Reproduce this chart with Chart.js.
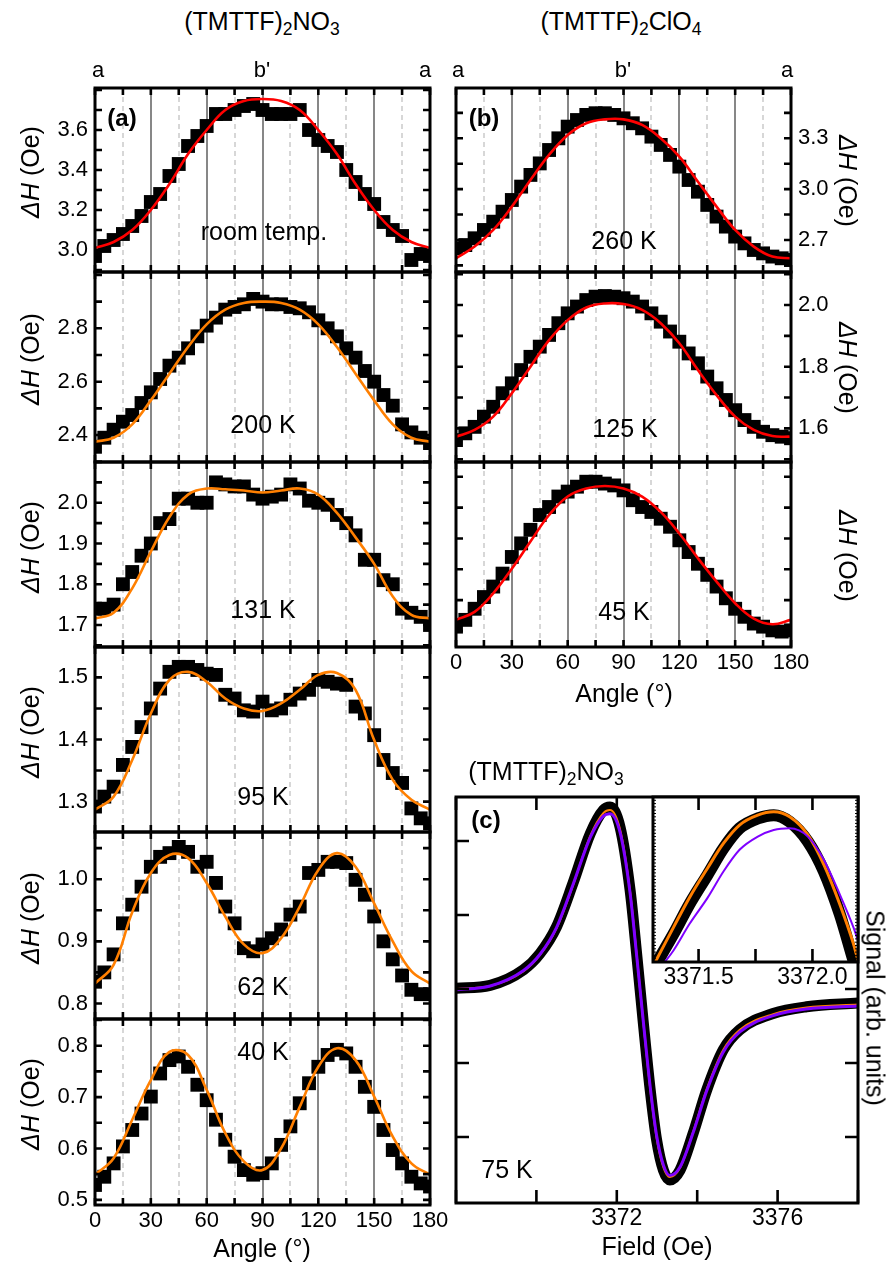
<!DOCTYPE html>
<html>
<head>
<meta charset="utf-8">
<title>(TMTTF)2X ESR linewidth</title>
<script src="https://cdn.jsdelivr.net/npm/chart.js@4.4.1/dist/chart.umd.min.js"></script>
<style>
  html, body { margin: 0; padding: 0; background: #fff; }
  #page { position: relative; width: 891px; height: 1266px; overflow: hidden;
          font-family: "Liberation Sans", Arial, sans-serif; color: #000; }
  #page canvas { position: absolute; }
  .lbl { position: absolute; white-space: nowrap; line-height: 1; }
  .lbl sub { font-size: 0.7em; vertical-align: baseline; position: relative; top: 0.32em; }
</style>
</head>
<body>
<div id="page"></div>
<script>
// ---- data ----
// rotation angle of the data points (deg)
const angles = [0, 5, 10, 15, 20, 25, 30, 35, 40, 45, 50, 55, 60, 65, 70, 75, 80, 85, 90,
  95, 100, 105, 110, 115, 120, 125, 130, 135, 140, 145, 150, 155, 160, 165, 170, 175, 180];
// angles where the fit curves were read
const fitAngles = [0, 10, 20, 30, 40, 50, 60, 70, 80, 90, 100, 110, 120, 130, 140, 150, 160, 170, 180];
const gridAngles = [15, 30, 45, 60, 75, 90, 105, 120, 135, 150, 165];

// (TMTTF)2NO3, panel (a)
const rtVals = [2.97, 3.02, 3.05, 3.08, 3.12, 3.17, 3.24, 3.28, 3.37, 3.43, 3.52, 3.57, 3.62, 3.68, 3.68, 3.70, 3.72, 3.73, 3.70,
  3.68, 3.68, 3.68, 3.70, 3.60, 3.55, 3.52, 3.49, 3.40, 3.34, 3.28, 3.23, 3.14, 3.10, 3.07, 2.95, 2.98, 2.97];
const rtFit = [3.01, 3.04, 3.10, 3.20, 3.33, 3.48, 3.60, 3.70, 3.745, 3.755, 3.745, 3.70, 3.60, 3.48, 3.33, 3.20, 3.10, 3.04, 3.01];
const rtYLabels = [3.0, 3.2, 3.4, 3.6];

const k200Vals = [2.356, 2.39, 2.42, 2.45, 2.475, 2.52, 2.56, 2.61, 2.66, 2.69, 2.725, 2.77, 2.81, 2.84, 2.87, 2.88, 2.89, 2.91, 2.90,
  2.89, 2.89, 2.88, 2.875, 2.86, 2.83, 2.80, 2.77, 2.725, 2.69, 2.64, 2.60, 2.55, 2.51, 2.44, 2.41, 2.39, 2.37];
const k200Fit = [2.375, 2.39, 2.44, 2.53, 2.63, 2.73, 2.815, 2.87, 2.895, 2.90, 2.895, 2.87, 2.815, 2.73, 2.63, 2.53, 2.44, 2.39, 2.375];
const k200YLabels = [2.4, 2.6, 2.8];

const k131Vals = [1.74, 1.74, 1.75, 1.80, 1.83, 1.87, 1.90, 1.95, 1.96, 2.01, 2.01, 2.00, 2.00, 2.05, 2.045, 2.04, 2.04, 2.02, 2.01,
  2.015, 2.02, 2.045, 2.035, 2.005, 2.00, 1.995, 1.97, 1.95, 1.92, 1.86, 1.86, 1.81, 1.80, 1.74, 1.73, 1.72, 1.70];
const k131Fit = [1.716, 1.73, 1.79, 1.88, 1.965, 2.02, 2.035, 2.033, 2.03, 2.025, 2.03, 2.035, 2.02, 1.975, 1.915, 1.85, 1.77, 1.725, 1.716];
const k131YLabels = [1.7, 1.8, 1.9, 2.0];

const k95Vals = [1.292, 1.308, 1.324, 1.359, 1.388, 1.42, 1.45, 1.482, 1.509, 1.517, 1.517, 1.512, 1.506, 1.504, 1.472, 1.466, 1.447, 1.445, 1.461,
  1.447, 1.45, 1.464, 1.474, 1.48, 1.496, 1.493, 1.49, 1.488, 1.453, 1.442, 1.407, 1.367, 1.346, 1.33, 1.289, 1.273, 1.265];
const k95Fit = [1.287, 1.308, 1.367, 1.442, 1.496, 1.509, 1.493, 1.466, 1.45, 1.446, 1.458, 1.48, 1.504, 1.507, 1.48, 1.399, 1.335, 1.303, 1.287];
const k95YLabels = [1.3, 1.4, 1.5];

const k62Vals = [0.835, 0.85, 0.879, 0.929, 0.959, 0.988, 1.020, 1.036, 1.042, 1.052, 1.044, 1.020, 1.028, 0.994, 0.956, 0.929, 0.889, 0.884, 0.895,
  0.905, 0.919, 0.943, 0.956, 1.010, 1.015, 1.028, 1.028, 1.026, 0.999, 0.975, 0.940, 0.900, 0.871, 0.845, 0.822, 0.815, 0.815];
const k62Fit = [0.832, 0.862, 0.947, 1.010, 1.039, 1.034, 0.994, 0.940, 0.895, 0.881, 0.905, 0.956, 1.015, 1.042, 1.020, 0.961, 0.900, 0.852, 0.832];
const k62YLabels = [0.8, 0.9, 1.0];

const k40Vals = [0.529, 0.545, 0.571, 0.604, 0.636, 0.668, 0.701, 0.746, 0.772, 0.779, 0.759, 0.724, 0.694, 0.656, 0.617, 0.584, 0.558, 0.549, 0.552,
  0.571, 0.607, 0.643, 0.688, 0.727, 0.759, 0.782, 0.792, 0.785, 0.759, 0.720, 0.681, 0.636, 0.597, 0.571, 0.545, 0.532, 0.526];
const k40Fit = [0.549, 0.581, 0.656, 0.733, 0.788, 0.782, 0.714, 0.630, 0.575, 0.558, 0.600, 0.681, 0.759, 0.795, 0.772, 0.701, 0.623, 0.571, 0.549];
const k40YLabels = [0.5, 0.6, 0.7, 0.8];

// (TMTTF)2ClO4, panel (b)
const k260Vals = [2.651, 2.67, 2.71, 2.759, 2.808, 2.867, 2.936, 3.015, 3.084, 3.152, 3.231, 3.30, 3.369, 3.408, 3.438, 3.448, 3.448, 3.438, 3.418,
  3.389, 3.359, 3.31, 3.261, 3.202, 3.133, 3.054, 2.985, 2.907, 2.838, 2.779, 2.72, 2.68, 2.641, 2.621, 2.602, 2.592, 2.582];
const k260Fit = [2.592, 2.661, 2.759, 2.897, 3.054, 3.202, 3.32, 3.389, 3.412, 3.412, 3.379, 3.30, 3.192, 3.044, 2.897, 2.759, 2.661, 2.602, 2.592];
const k260YLabels = [2.7, 3.0, 3.3];

const k125Vals = [1.562, 1.584, 1.605, 1.638, 1.670, 1.714, 1.746, 1.789, 1.832, 1.865, 1.903, 1.941, 1.973, 1.995, 2.016, 2.027, 2.029, 2.027, 2.022,
  2.011, 1.995, 1.973, 1.946, 1.914, 1.881, 1.843, 1.811, 1.768, 1.730, 1.692, 1.659, 1.627, 1.605, 1.589, 1.578, 1.573, 1.568];
const k125Fit = [1.573, 1.595, 1.638, 1.714, 1.80, 1.886, 1.951, 1.992, 2.005, 2.003, 1.984, 1.941, 1.876, 1.789, 1.708, 1.638, 1.595, 1.575, 1.573];
const k125YLabels = [1.6, 1.8, 2.0];

const k45Vals = [0.957, 0.968, 0.986, 1.005, 1.022, 1.043, 1.070, 1.092, 1.114, 1.138, 1.151, 1.168, 1.176, 1.184, 1.192, 1.192, 1.189, 1.186, 1.178,
  1.162, 1.151, 1.143, 1.132, 1.119, 1.097, 1.078, 1.059, 1.041, 1.022, 1.003, 0.986, 0.973, 0.962, 0.957, 0.951, 0.949, 0.951];
const k45Fit = [0.968, 0.981, 1.011, 1.051, 1.095, 1.138, 1.168, 1.181, 1.185, 1.181, 1.168, 1.143, 1.108, 1.068, 1.030, 0.995, 0.970, 0.961, 0.968];
const k45YLabels = [1.0, 1.1, 1.2];

// panel (c): ESR line at 75 K (field in Oe, signal in arb. units)
const field = [3368, 3368.85, 3369.68, 3370.09, 3370.5, 3370.91, 3371.34, 3371.67, 3371.83, 3372.08, 3372.33, 3372.5, 3372.66,
  3372.83, 3372.99, 3373.16, 3373.32, 3373.57, 3373.9, 3374.24, 3374.65, 3375.06, 3375.89, 3376.72, 3378];
const signalData = [0.01, 0.05, 0.26, 0.48, 0.84, 1.43, 2.10, 2.42, 2.46, 2.19, 1.34, 0.44, -0.46,
  -1.36, -2.04, -2.45, -2.58, -2.45, -1.95, -1.36, -0.82, -0.55, -0.33, -0.24, -0.19];
const signalOrange = [0.0, 0.04, 0.24, 0.46, 0.82, 1.40, 2.07, 2.38, 2.42, 2.16, 1.32, 0.43, -0.45,
  -1.34, -2.01, -2.41, -2.54, -2.42, -1.93, -1.35, -0.82, -0.55, -0.34, -0.25, -0.21];
const signalPurple = [-0.01, 0.04, 0.25, 0.47, 0.83, 1.41, 2.05, 2.34, 2.37, 2.12, 1.30, 0.42, -0.44,
  -1.32, -1.98, -2.38, -2.52, -2.41, -1.94, -1.37, -0.85, -0.58, -0.36, -0.27, -0.23];
const fieldLabels = [3372, 3376];

// inset of (c): zoom on the positive peak
const insetField = [3371.31, 3371.39, 3371.46, 3371.54, 3371.61, 3371.68, 3371.76, 3371.83, 3371.90, 3371.98, 3372.05, 3372.12, 3372.18, 3372.20];
const insetData = [-0.02, 0.17, 0.35, 0.53, 0.69, 0.81, 0.87, 0.89, 0.85, 0.73, 0.55, 0.29, 0.01, -0.08];
const insetOrange = [0.0, 0.21, 0.39, 0.57, 0.72, 0.83, 0.89, 0.91, 0.88, 0.77, 0.59, 0.35, 0.11, 0.01];
const insetPurple = [-0.07, 0.07, 0.23, 0.39, 0.55, 0.68, 0.76, 0.80, 0.81, 0.76, 0.62, 0.41, 0.21, 0.13];
const insetLabels = [3371.5, 3372.0];

// ---- drawing ----
const page = document.getElementById('page');
Chart.defaults.font.family = "'Liberation Sans', Arial, sans-serif";
Chart.defaults.color = '#000';

const PAD = 24;
const RED = '#ff0000';
const ORANGE = '#ff7f00';
const PURPLE = '#7f00ff';

function pairs(xs, ys) { return xs.map((x, i) => ({ x: x, y: ys[i] })); }
function onList(list, v) { return list.some(l => Math.abs(l - v) < 1e-6); }
function stepValues(min, max, step) {
  const out = [];
  for (let k = Math.ceil(min / step - 1e-6); k * step <= max + 1e-9; k++) out.push(k * step);
  return out;
}

function addCanvas(left, top, w, h) {
  const cv = document.createElement('canvas');
  cv.width = w; cv.height = h;
  cv.style.left = left + 'px'; cv.style.top = top + 'px';
  cv.style.width = w + 'px'; cv.style.height = h + 'px';
  page.appendChild(cv);
  return cv;
}

// grid lines, inward ticks on all four sides, and the frame
function decorations(o) {
  return {
    id: 'decorations',
    beforeDatasetsDraw(chart) {
      const { ctx, chartArea: a } = chart;
      const x = chart.scales.x;
      ctx.save();
      if (o.white) {
        ctx.fillStyle = '#fff';
        ctx.fillRect(a.left, a.top, a.right - a.left, a.bottom - a.top);
      }
      if (o.grid) {
        o.grid.forEach(g => {
          const px = Math.round(x.getPixelForValue(g));
          const major = g % 30 === 0;
          ctx.beginPath();
          ctx.strokeStyle = major ? '#7a7a7a' : '#bdbdbd';
          ctx.lineWidth = major ? 1.8 : 1.2;
          ctx.setLineDash(major ? [] : [5, 4]);
          ctx.moveTo(px, a.top); ctx.lineTo(px, a.bottom);
          ctx.stroke();
        });
      }
      ctx.restore();
    },
    afterDatasetsDraw(chart) {
      const { ctx, chartArea: a } = chart;
      const x = chart.scales.x, y = chart.scales.y;
      ctx.save();
      ctx.strokeStyle = '#000';
      ctx.setLineDash([]);
      ctx.lineWidth = o.tickWidth;
      ctx.beginPath();
      stepValues(x.min, x.max, o.xTick).forEach(v => {
        const px = x.getPixelForValue(v);
        ctx.moveTo(px, a.top); ctx.lineTo(px, a.top + o.tickLen);
        ctx.moveTo(px, a.bottom); ctx.lineTo(px, a.bottom - o.tickLen);
      });
      ctx.stroke();
      ctx.lineWidth = o.yTickWidth || o.tickWidth;
      ctx.beginPath();
      stepValues(y.min, y.max, o.yTick).forEach(v => {
        const py = y.getPixelForValue(v);
        ctx.moveTo(a.left, py); ctx.lineTo(a.left + (o.yTickLen || o.tickLen), py);
        ctx.moveTo(a.right, py); ctx.lineTo(a.right - (o.yTickLen || o.tickLen), py);
      });
      ctx.stroke();
      ctx.lineWidth = o.frame;
      ctx.strokeRect(a.left, a.top, a.right - a.left, a.bottom - a.top);
      ctx.restore();
    }
  };
}

// one ΔH(angle) panel
function anglePanel(p) {
  const axW = 40, axH = 30;
  const showX = !!p.showX;
  const left = p.x0 - PAD - (p.side === 'left' ? axW : 0);
  const top = p.y0 - PAD;
  const w = (p.x1 - p.x0) + 2 * PAD + axW;
  const h = (p.y1 - p.y0) + 2 * PAD + (showX ? axH : 0);
  const cv = addCanvas(left, top, w, h);
  new Chart(cv, {
    type: 'scatter',
    data: {
      datasets: [
        { data: pairs(fitAngles, p.fit), showLine: true, borderColor: p.color, borderWidth: 2.6,
          pointRadius: 0, tension: 0.4, clip: 0 },
        { data: pairs(angles, p.vals), pointStyle: 'rect', pointRadius: 9.8,
          backgroundColor: '#000', borderColor: '#000', borderWidth: 0, clip: 0 }
      ]
    },
    options: {
      responsive: false, animation: false, events: [],
      layout: { padding: { left: p.side === 'left' ? 0 : PAD, right: p.side === 'right' ? 0 : PAD,
                           top: PAD, bottom: showX ? 0 : PAD } },
      plugins: { legend: { display: false }, tooltip: { enabled: false } },
      scales: {
        x: {
          type: 'linear', min: 0, max: 180, display: showX,
          grid: { display: false, drawTicks: false }, border: { display: false },
          ticks: { stepSize: 30, maxRotation: 0, autoSkip: false, padding: 3, font: { size: 22 }, color: '#000' },
          afterFit: s => { if (showX) s.height = axH + PAD; s.paddingLeft = 0; s.paddingRight = 0; }
        },
        y: {
          type: 'linear', position: p.side, min: p.yMin, max: p.yMax,
          grid: { display: false, drawTicks: false }, border: { display: false },
          ticks: { stepSize: p.yStep, autoSkip: false, includeBounds: false, padding: 7,
                   font: { size: 22 }, color: '#000',
                   callback: v => onList(p.yLabels, v) ? v.toFixed(1) : '' },
          afterFit: s => { s.width = axW + PAD; s.paddingTop = 0; s.paddingBottom = 0; }
        }
      }
    },
    plugins: [decorations({ grid: gridAngles, xTick: 15, yTick: p.yStep, tickLen: 7, tickWidth: 2.6, frame: 3 })]
  });
}

const LX0 = 95, LX1 = 430, RX0 = 456, RX1 = 791;
const rows = [88, 272, 462, 647, 832, 1019, 1205];

anglePanel({ x0: LX0, x1: LX1, y0: rows[0], y1: rows[1], side: 'left', vals: rtVals, fit: rtFit, color: RED,
  yMin: 2.89, yMax: 3.81, yStep: 0.1, yLabels: rtYLabels });
anglePanel({ x0: LX0, x1: LX1, y0: rows[1], y1: rows[2], side: 'left', vals: k200Vals, fit: k200Fit, color: ORANGE,
  yMin: 2.299, yMax: 3.011, yStep: 0.1, yLabels: k200YLabels });
anglePanel({ x0: LX0, x1: LX1, y0: rows[2], y1: rows[3], side: 'left', vals: k131Vals, fit: k131Fit, color: ORANGE,
  yMin: 1.646, yMax: 2.1, yStep: 0.05, yLabels: k131YLabels });
anglePanel({ x0: LX0, x1: LX1, y0: rows[3], y1: rows[4], side: 'left', vals: k95Vals, fit: k95Fit, color: ORANGE,
  yMin: 1.251, yMax: 1.549, yStep: 0.05, yLabels: k95YLabels });
anglePanel({ x0: LX0, x1: LX1, y0: rows[4], y1: rows[5], side: 'left', vals: k62Vals, fit: k62Fit, color: ORANGE,
  yMin: 0.775, yMax: 1.076, yStep: 0.05, yLabels: k62YLabels });
anglePanel({ x0: LX0, x1: LX1, y0: rows[5], y1: rows[6], side: 'left', vals: k40Vals, fit: k40Fit, color: ORANGE,
  yMin: 0.49, yMax: 0.852, yStep: 0.05, yLabels: k40YLabels, showX: true });

anglePanel({ x0: RX0, x1: RX1, y0: rows[0], y1: rows[1], side: 'right', vals: k260Vals, fit: k260Fit, color: RED,
  yMin: 2.511, yMax: 3.597, yStep: 0.15, yLabels: k260YLabels });
anglePanel({ x0: RX0, x1: RX1, y0: rows[1], y1: rows[2], side: 'right', vals: k125Vals, fit: k125Fit, color: RED,
  yMin: 1.491, yMax: 2.107, yStep: 0.1, yLabels: k125YLabels });
anglePanel({ x0: RX0, x1: RX1, y0: rows[2], y1: rows[3], side: 'right', vals: k45Vals, fit: k45Fit, color: RED,
  yMin: 0.924, yMax: 1.224, yStep: 0.05, yLabels: k45YLabels, showX: true });

// panel (c) and its inset
function fieldPanel(p) {
  const axH = 32;
  const cv = addCanvas(p.x0 - PAD, p.y0 - PAD, (p.x1 - p.x0) + 2 * PAD, (p.y1 - p.y0) + 2 * PAD + axH);
  new Chart(cv, {
    type: 'scatter',
    data: {
      datasets: [
        { data: pairs(p.xs, p.purple), showLine: true, borderColor: PURPLE, borderWidth: p.purpleW,
          pointRadius: 0, cubicInterpolationMode: 'monotone', clip: 0 },
        { data: pairs(p.xs, p.orange), showLine: true, borderColor: ORANGE, borderWidth: p.orangeW,
          pointRadius: 0, cubicInterpolationMode: 'monotone', clip: 0 },
        { data: pairs(p.xs, p.black), showLine: true, borderColor: '#000', borderWidth: p.blackW,
          borderJoinStyle: 'round', borderCapStyle: 'round',
          pointRadius: 0, cubicInterpolationMode: 'monotone', clip: 0 }
      ]
    },
    options: {
      responsive: false, animation: false, events: [],
      layout: { padding: { left: PAD, right: PAD, top: PAD, bottom: 0 } },
      plugins: { legend: { display: false }, tooltip: { enabled: false } },
      scales: {
        x: {
          type: 'linear', min: p.xMin, max: p.xMax,
          grid: { display: false, drawTicks: false }, border: { display: false },
          ticks: { stepSize: p.labelStep, includeBounds: false, maxRotation: 0, autoSkip: false, padding: 2,
                   font: { size: 23 }, color: '#000',
                   callback: v => onList(p.labels, v) ? v.toFixed(p.digits) : '' },
          afterFit: s => { s.height = axH + PAD; s.paddingLeft = 0; s.paddingRight = 0; }
        },
        y: { type: 'linear', min: p.yMin, max: p.yMax, display: false }
      }
    },
    plugins: [decorations({ white: p.white, xTick: p.xTick, yTick: p.yTick, tickLen: 13, tickWidth: 2.6,
                            yTickLen: p.yTickLen, yTickWidth: p.yTickWidth, frame: 3 })]
  });
}

fieldPanel({ x0: 456, x1: 858, y0: 797, y1: 1203, xs: field, black: signalData, orange: signalOrange, purple: signalPurple,
  blackW: 11, orangeW: 2, purpleW: 3, xMin: 3368, xMax: 3378, yMin: -2.892, yMax: 2.595,
  labelStep: 4, labels: fieldLabels, digits: 0, xTick: 2, yTick: 1 });
fieldPanel({ x0: 653, x1: 858, y0: 797, y1: 962, xs: insetField, black: insetData, orange: insetOrange, purple: insetPurple,
  blackW: 12, orangeW: 3, purpleW: 2, xMin: 3371.30, xMax: 3372.20, yMin: 0, yMax: 1,
  labelStep: 0.5, labels: insetLabels, digits: 1, xTick: 0.25, yTick: 0.02, yTickLen: 3, yTickWidth: 1, white: true });

// ---- text ----
function label(html, cx, baseY, size, bold) {
  const d = document.createElement('div');
  d.className = 'lbl';
  d.innerHTML = html;
  d.style.fontSize = size + 'px';
  d.style.left = cx + 'px';
  d.style.top = (baseY - 0.85 * size) + 'px';
  d.style.transform = 'translateX(-50%)';
  if (bold) d.style.fontWeight = 'bold';
  page.appendChild(d);
}
function vlabel(html, cx, cy, size, deg) {
  const d = document.createElement('div');
  d.className = 'lbl';
  d.innerHTML = html;
  d.style.fontSize = size + 'px';
  d.style.left = cx + 'px';
  d.style.top = cy + 'px';
  d.style.transform = 'translate(-50%, -50%) rotate(' + deg + 'deg)';
  page.appendChild(d);
}

label('(TMTTF)<sub>2</sub>NO<sub>3</sub>', 262, 30, 25);
label('(TMTTF)<sub>2</sub>ClO<sub>4</sub>', 621, 30, 25);
label('a', 98, 78, 22); label("b'", 262, 78, 22); label('a', 425, 78, 22);
label('a', 458, 78, 22); label("b'", 623, 78, 22); label('a', 787, 78, 22);
label('(a)', 122, 126, 24, true);
label('(b)', 484, 126, 24, true);
label('room temp.', 264, 240, 25);
label('200 K', 263, 433, 25);
label('131 K', 263, 618, 25);
label('95 K', 263, 805, 25);
label('62 K', 263, 995, 25);
label('40 K', 263, 1060, 25);
label('260 K', 624, 249, 25);
label('125 K', 625, 437, 25);
label('45 K', 624, 620, 25);
label('Angle (°)', 262, 1257, 25);
label('Angle (°)', 624, 702, 25);
label('Field (Oe)', 657, 1255, 25);
label('(TMTTF)<sub>2</sub>NO<sub>3</sub>', 546, 780, 25);
label('(c)', 486, 828, 24, true);
label('75 K', 507, 1178, 25);

const dh = '<i>ΔH</i> (Oe)';
for (let i = 0; i < 6; i++) vlabel(dh, 30, (rows[i] + rows[i + 1]) / 2 - 8, 25, -90);
for (let i = 0; i < 3; i++) vlabel(dh, 847, (rows[i] + rows[i + 1]) / 2 + 1, 25, 90);
vlabel('Signal (arb. units)', 875, 1008, 25, 90);
</script>
</body>
</html>
